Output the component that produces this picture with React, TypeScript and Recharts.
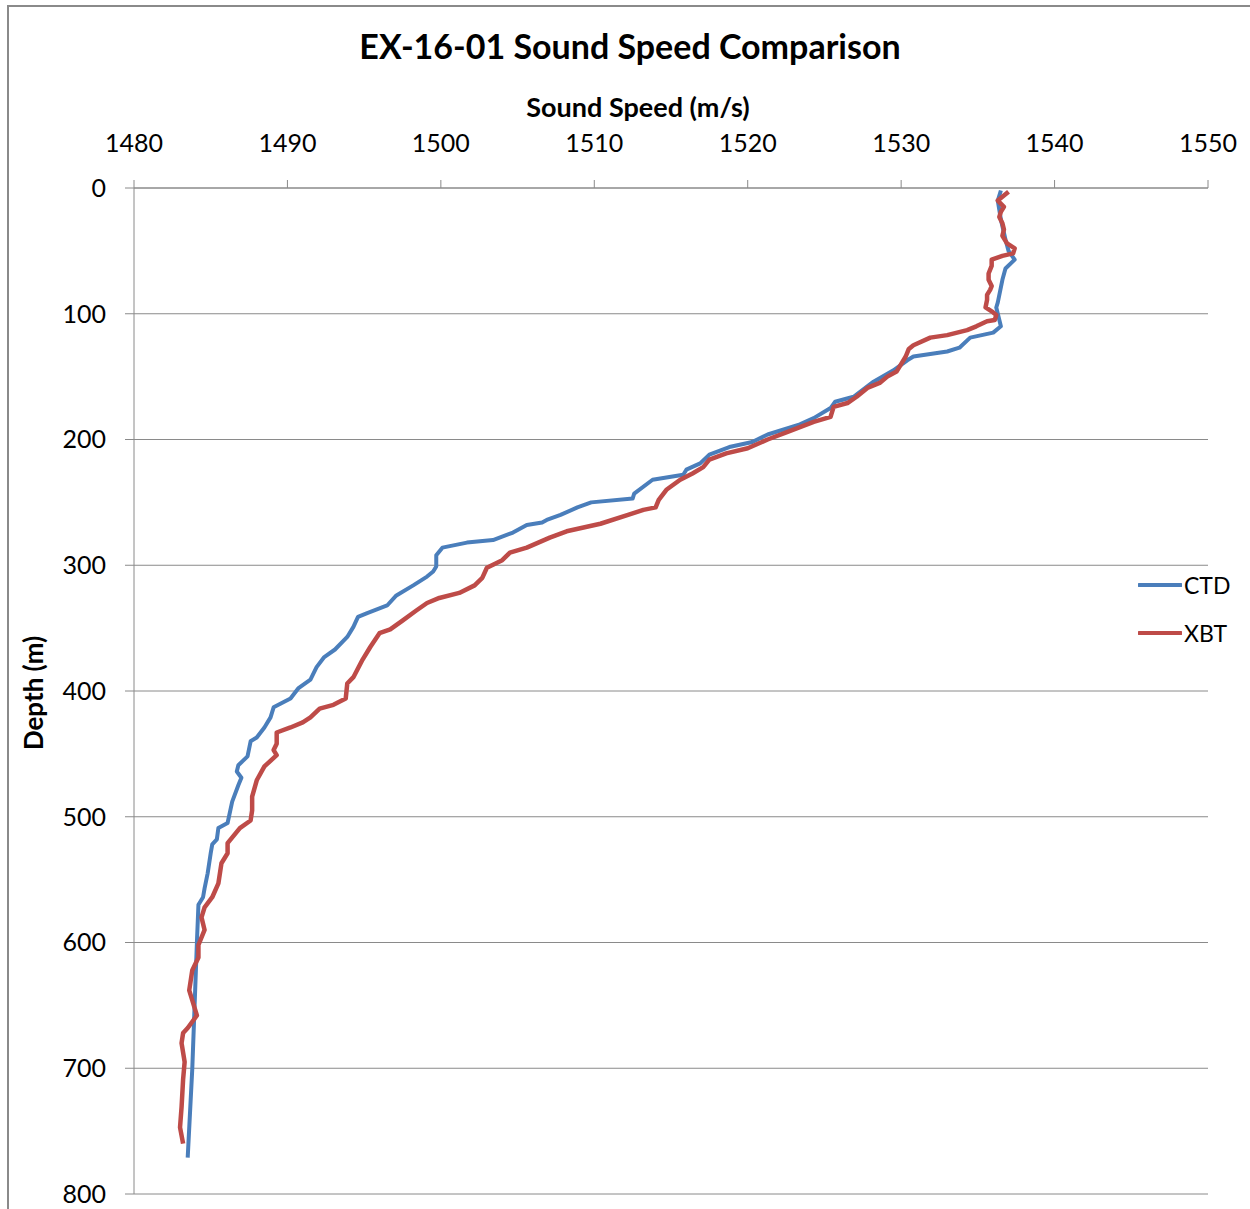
import { LineChart, Line, XAxis, YAxis, CartesianGrid, Legend } from 'recharts'

const SPEED_TICKS = [1480, 1490, 1500, 1510, 1520, 1530, 1540, 1550]
const DEPTH_TICKS = [0, 100, 200, 300, 400, 500, 600, 700, 800]

// CTD cast (depth m, sound speed m/s)
const ctdDepth = [
  2, 10, 25, 41, 50, 57, 64, 73, 91, 95, 100, 110, 115, 119, 127, 130, 134, 137, 145, 154,
  166, 170, 175, 183, 188, 196, 202, 206, 212, 219, 224, 228, 232, 243, 247, 250, 254, 260, 264, 266,
  268, 274, 280, 282, 286, 292, 301, 305, 309, 316, 324, 332, 338, 341, 349, 357, 367, 373, 381, 391,
  398, 406, 413, 421, 429, 437, 440, 452, 459, 464, 469, 475, 488, 505, 509, 518, 522, 529, 545, 557,
  564, 568, 570, 600, 700, 771
]
const ctdSpeed = [
  1536.5, 1536.3, 1536.5, 1536.8, 1537.0, 1537.4, 1536.8, 1536.6, 1536.3, 1536.2, 1536.3, 1536.5, 1536.0, 1534.5, 1533.8, 1533.0, 1530.8, 1530.4, 1529.5, 1528.2,
  1526.9, 1525.7, 1525.4, 1524.3, 1523.4, 1521.3, 1520.3, 1518.8, 1517.5, 1516.9, 1516.0, 1515.8, 1513.8, 1512.6, 1512.5, 1509.8, 1508.9, 1507.8, 1506.9, 1506.6,
  1505.6, 1504.7, 1503.4, 1501.7, 1500.1, 1499.7, 1499.7, 1499.5, 1499.1, 1498.2, 1497.1, 1496.5, 1495.2, 1494.6, 1494.3, 1493.9, 1493.1, 1492.4, 1491.9, 1491.5,
  1490.7, 1490.2, 1489.1, 1488.9, 1488.5, 1488.0, 1487.6, 1487.4, 1486.8, 1486.7, 1487.0, 1486.8, 1486.4, 1486.1, 1485.5, 1485.4, 1485.1, 1485.0, 1484.8, 1484.6,
  1484.5, 1484.3, 1484.2, 1484.1, 1483.8, 1483.5
]

// XBT drop
const xbtDepth = [
  3, 7, 10, 15, 19, 23, 28, 33, 38, 44, 48, 52, 54, 57, 62, 68, 73, 78, 81, 85,
  89, 95, 99, 101, 105, 106, 110, 113, 117, 119, 125, 128, 134, 142, 146, 150, 155, 159, 166, 171,
  174, 182, 186, 194, 200, 207, 211, 216, 222, 227, 232, 240, 248, 254, 256, 260, 267, 273, 278, 286,
  290, 296, 302, 310, 316, 322, 326, 330, 336, 344, 351, 354, 365, 375, 389, 394, 406, 411, 414, 421,
  425, 429, 433, 442, 447, 451, 460, 471, 484, 495, 503, 509, 521, 529, 537, 553, 564, 572, 580, 590,
  602, 612, 622, 638, 646, 658, 668, 672, 680, 695, 709, 731, 747, 760
]
const xbtSpeed = [
  1537.0, 1536.6, 1536.3, 1536.7, 1536.5, 1536.4, 1536.6, 1536.7, 1536.6, 1536.9, 1537.4, 1537.3, 1536.6, 1535.9, 1535.9, 1535.7, 1535.7, 1535.9, 1535.8, 1535.6,
  1535.6, 1535.5, 1536.0, 1536.2, 1536.1, 1535.6, 1534.9, 1534.3, 1533.0, 1531.9, 1530.8, 1530.5, 1530.3, 1529.9, 1529.7, 1529.1, 1528.6, 1527.8, 1527.1, 1526.5,
  1525.6, 1525.4, 1524.3, 1522.6, 1521.3, 1520.0, 1518.6, 1517.5, 1517.1, 1516.4, 1515.6, 1514.7, 1514.2, 1514.0, 1513.2, 1512.2, 1510.4, 1508.2, 1507.1, 1505.6,
  1504.5, 1504.0, 1503.0, 1502.7, 1502.2, 1501.2, 1499.9, 1499.1, 1498.4, 1497.5, 1496.7, 1496.0, 1495.4, 1494.9, 1494.3, 1493.9, 1493.8, 1493.0, 1492.1, 1491.5,
  1491.0, 1490.2, 1489.3, 1489.3, 1489.1, 1489.3, 1488.5, 1488.0, 1487.7, 1487.7, 1487.6, 1486.9, 1486.1, 1486.1, 1485.7, 1485.5, 1485.1, 1484.6, 1484.4, 1484.6,
  1484.2, 1484.2, 1483.8, 1483.6, 1483.8, 1484.1, 1483.5, 1483.2, 1483.1, 1483.3, 1483.2, 1483.1, 1483.0, 1483.2
]

const CTD_COLOR = '#4A7EBB'
const XBT_COLOR = '#BE4B48'
const AXIS_GRAY = '#8a8a8a'
const FONT = 'Lato, "Noto Sans", sans-serif'

const ctdData = ctdDepth.map((d, i) => ({ depth: d, speed: ctdSpeed[i] }))
const xbtData = xbtDepth.map((d, i) => ({ depth: d, speed: xbtSpeed[i] }))

function LegendBox(props: any) {
  const items = props.payload ?? []
  return (
    <div style={{ fontFamily: FONT, fontSize: 23, color: '#000' }}>
      {items.map((it: any) => (
        <div key={it.value} style={{ display: 'flex', alignItems: 'center', height: 48 }}>
          <svg width={44} height={10} style={{ marginRight: 2 }}>
            <line x1={1} y1={5} x2={43} y2={5} stroke={it.color} strokeWidth={4} strokeLinecap="round" />
          </svg>
          <span>{it.value}</span>
        </div>
      ))}
    </div>
  )
}

export default function App() {
  return (
    <div style={{ position: 'absolute', left: 7, top: 5, width: 1243, height: 1204, borderTop: `2px solid ${AXIS_GRAY}`, borderLeft: `2px solid ${AXIS_GRAY}`, background: '#fff', fontFamily: FONT }}>
      <div style={{ position: 'absolute', left: 621, top: 39, transform: 'translate(-50%, -50%)', fontSize: 34, fontWeight: 700, whiteSpace: 'nowrap', lineHeight: 1 }}>
        EX-16-01 Sound Speed Comparison
      </div>
      <div style={{ position: 'absolute', left: 629, top: 99, transform: 'translate(-50%, -50%)', fontSize: 27, fontWeight: 700, whiteSpace: 'nowrap', lineHeight: 1 }}>
        Sound Speed (m/s)
      </div>
      <div style={{ position: 'absolute', left: 24, top: 686, transform: 'translate(-50%, -50%) rotate(-90deg)', fontSize: 26, fontWeight: 700, whiteSpace: 'nowrap', lineHeight: 1 }}>
        Depth (m)
      </div>
      <div style={{ position: 'absolute', left: 0, top: 0 }}>
        <LineChart
          width={1241}
          height={1202}
          layout="vertical"
          margin={{ top: 100, right: 42, bottom: 15, left: 0 }}
        >
          <CartesianGrid vertical={false} stroke={AXIS_GRAY} strokeWidth={1} />
          <XAxis
            type="number"
            orientation="top"
            domain={[1480, 1550]}
            ticks={SPEED_TICKS}
            allowDataOverflow
            height={81}
            stroke={AXIS_GRAY}
            tickSize={8}
            tickMargin={28}
            tick={{ fill: '#000', fontSize: 25, fontFamily: FONT }}
          />
          <YAxis
            type="number"
            dataKey="depth"
            domain={[0, 800]}
            ticks={DEPTH_TICKS}
            allowDataOverflow
            width={125}
            stroke={AXIS_GRAY}
            tickSize={9}
            tickMargin={19}
            tick={{ fill: '#000', fontSize: 25, fontFamily: FONT }}
          />
          <Line
            data={ctdData}
            dataKey="speed"
            name="CTD"
            stroke={CTD_COLOR}
            strokeWidth={4}
            dot={false}
            isAnimationActive={false}
            strokeLinejoin="round"
          />
          <Line
            data={xbtData}
            dataKey="speed"
            name="XBT"
            stroke={XBT_COLOR}
            strokeWidth={4.5}
            dot={false}
            isAnimationActive={false}
            strokeLinejoin="round"
          />
          <Legend
            layout="vertical"
            align="center"
            verticalAlign="middle"
            content={<LegendBox />}
            wrapperStyle={{ left: 1129, top: 554, width: 112 }}
          />
        </LineChart>
      </div>
    </div>
  )
}
